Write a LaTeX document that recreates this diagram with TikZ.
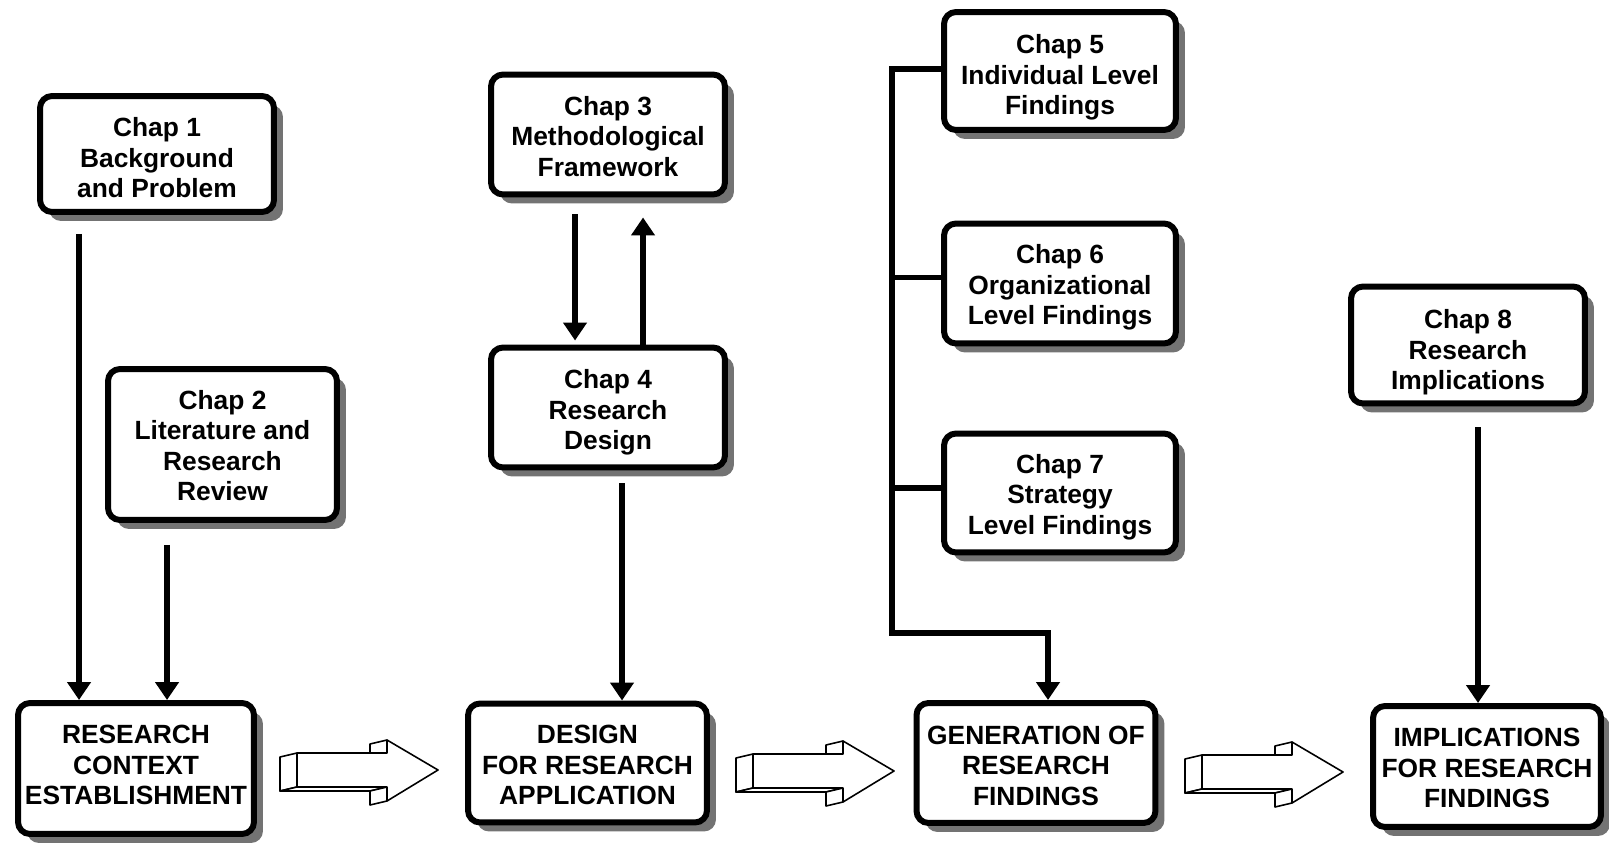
\documentclass[tikz,border=0pt]{standalone}
\usepackage{fontspec}
\setmainfont{Liberation Sans}
\usetikzlibrary{arrows.meta,shadows}
\begin{document}
\begin{tikzpicture}[x=0.02cm,y=-0.02cm,
  box/.style={draw, line width=0.12cm, rounded corners=0.24cm, fill=white,
    inner sep=0pt,
    drop shadow={shadow xshift=0.18cm, shadow yshift=-0.18cm, opacity=1, fill=black!55}},
  sz/.style 2 args={minimum width=#1cm, minimum height=#2cm},
  txt/.style={align=center, inner sep=0pt,
    font=\bfseries\fontsize{15}{17.4}\selectfont},
  wire/.style={line width=0.11cm},
  conn/.style={wire, -{Triangle[length=0.36cm,width=0.46cm]}},
  barrow/.style={draw, fill=white, line width=0.9pt, line join=round},
  pics/blockarrow/.style={code={
    % visible side faces of the extruded arrow
    \draw[barrow] (-17,-13) -- (0,-17) -- (0,17) -- (-17,21) -- cycle;
    \draw[barrow] (-17,21) -- (0,17) -- (90,17) -- (73,21) -- cycle;
    \draw[barrow] (73,-26) -- (90,-30) -- (90,-17) -- (73,-13) -- cycle;
    \draw[barrow] (73,21) -- (90,17) -- (90,31) -- (73,35) -- cycle;
    % front face
    \draw[barrow] (0,-17) -- (90,-17) -- (90,-30) -- (141,0) -- (90,31)
      -- (90,17) -- (0,17) -- cycle;
  }}
]
\useasboundingbox (0,0) rectangle (1609,851);

% chapter boxes
\node[box, sz={4.68}{2.32}] (c1) at (157,154) {};
\node[box, sz={4.58}{3.02}] (c2) at (222.5,444.5) {};
\node[box, sz={4.68}{2.40}] (c3) at (608,134.5) {};
\node[box, sz={4.68}{2.40}] (c4) at (608,407.5) {};
\node[box, sz={4.64}{2.36}] (c5) at (1060,71) {};
\node[box, sz={4.64}{2.40}] (c6) at (1060,283.5) {};
\node[box, sz={4.64}{2.38}] (c7) at (1060,493) {};
\node[box, sz={4.68}{2.34}] (c8) at (1468,345) {};

% stage boxes
\node[box, sz={4.72}{2.62}] (b1) at (136,768.5) {};
\node[box, sz={4.78}{2.38}] (b2) at (587.5,763) {};
\node[box, sz={4.78}{2.40}] (b3) at (1036,763) {};
\node[box, sz={4.56}{2.42}] (b4) at (1487,766.5) {};

% box labels
\node[txt] (c1t) at ([shift={(0,4)}]c1.center) {Chap 1\\Background\\and Problem};
\node[txt] (c2t) at ([shift={(0,1)}]c2.center) {Chap 2\\Literature and\\Research\\Review};
\node[txt] (c3t) at ([shift={(0,2)}]c3.center) {Chap 3\\Methodological\\Framework};
\node[txt] (c4t) at ([shift={(0,5)}]c4.center) {Chap 4\\Research\\Design};
\node[txt] (c5t) at ([shift={(0,6.5)}]c5.center) {Chap 5\\Individual Level\\Findings};
\node[txt] (c6t) at ([shift={(0,4)}]c6.center) {Chap 6\\Organizational\\Level Findings};
\node[txt] (c7t) at ([shift={(0,4)}]c7.center) {Chap 7\\Strategy\\Level Findings};
\node[txt] (c8t) at ([shift={(0,7.5)}]c8.center) {Chap 8\\Research\\Implications};
\node[txt] (b1t) at ([shift={(0,-3.5)}]b1.center) {RESEARCH\\CONTEXT\\ESTABLISHMENT};
\node[txt] (b2t) at ([shift={(0,2)}]b2.center) {DESIGN\\FOR RESEARCH\\APPLICATION};
\node[txt] (b3t) at ([shift={(0,2.5)}]b3.center) {GENERATION OF\\RESEARCH\\FINDINGS};
\node[txt] (b4t) at ([shift={(0,1.5)}]b4.center) {IMPLICATIONS\\FOR RESEARCH\\FINDINGS};

% stage-to-stage block arrows
\pic at (297,770) {blockarrow};
\pic at (753,771) {blockarrow};
\pic at (1202,772) {blockarrow};

% connectors
\coordinate (s1) at ([shift={(42,19)}]c1.south west);
\draw[conn] (s1) -- (s1 |- b1.north);
\coordinate (s2) at ([shift={(62,22)}]c2.south west);
\draw[conn] (s2) -- (s2 |- b1.north);

\coordinate (d3) at ([shift={(87,17)}]c3.south west);
\draw[conn, shorten >=0.08cm] (d3) -- (d3 |- c4.north);
\coordinate (u3) at ([shift={(155,20)}]c3.south west);
\draw[conn] (u3 |- c4.north) -- (u3);

\coordinate (s4) at ([shift={(134,13)}]c4.south west);
\draw[conn] (s4) -- (s4 |- b2.north);

\coordinate (spine) at (892,633);
\draw[conn] ([shift={(0,-2)}]c5.west) -| (spine) -| ([shift={(12,0)}]b3.north);
\draw[wire] ([shift={(0,-6)}]c6.west) -- ([shift={(0,-6)}]c6.west -| spine);
\draw[wire] ([shift={(0,-5)}]c7.west) -- ([shift={(0,-5)}]c7.west -| spine);

\coordinate (s8) at ([shift={(130,21)}]c8.south west);
\draw[conn] (s8) -- (s8 |- b4.north);
\end{tikzpicture}
\end{document}
